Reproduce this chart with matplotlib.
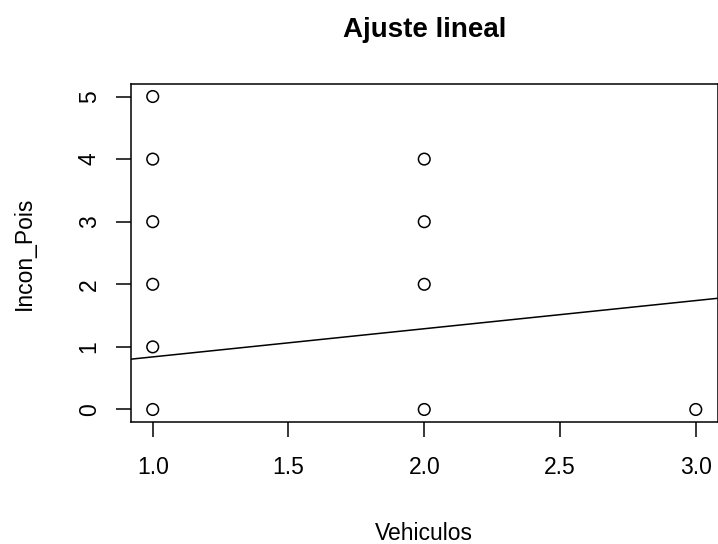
import matplotlib
matplotlib.use("Agg")
import matplotlib.pyplot as plt

plt.rcParams['font.family'] = ['Liberation Sans', 'DejaVu Sans']

# data
vehiculos = [1, 1, 1, 1, 1, 1, 2, 2, 2, 2, 3]
incon_pois = [0, 1, 2, 3, 4, 5, 0, 2, 3, 4, 0]
intercept = 0.39
slope = 0.45

xticks = [1.0, 1.5, 2.0, 2.5, 3.0]
yticks = [0, 1, 2, 3, 4, 5]

W, H = 718, 544
fig = plt.figure(figsize=(W / 100, H / 100), dpi=100)
ax = fig.add_axes([131 / W, (H - 422) / H, (717.5 - 131) / W, (422 - 84) / H])

ax.scatter(vehiculos, incon_pois, s=70, facecolors='none', edgecolors='black',
           linewidths=1.1, zorder=3)
ax.axline((0, intercept), slope=slope, color='black', linewidth=1.1)

ax.set_xlim(0.92, 3.08)
ax.set_ylim(-0.2, 5.2)
ax.set_xticks(xticks)
ax.set_xticklabels([f"{v:.1f}" for v in xticks])
ax.set_yticks(yticks)
ax.set_yticklabels([str(v) for v in yticks], rotation=90, va='center')

for sp in ax.spines.values():
    sp.set_linewidth(1.1)
ax.tick_params(length=10.8, width=1.1, labelsize=16.5, pad=14)
ax.tick_params(axis='y', pad=11)

ax.set_title("Ajuste lineal", fontsize=20, fontweight='bold', pad=34)
ax.set_xlabel("Vehiculos", fontsize=16.5, labelpad=31)
ax.set_ylabel("Incon_Pois", fontsize=16.5, labelpad=30)

fig.savefig("out.png", dpi=100)
